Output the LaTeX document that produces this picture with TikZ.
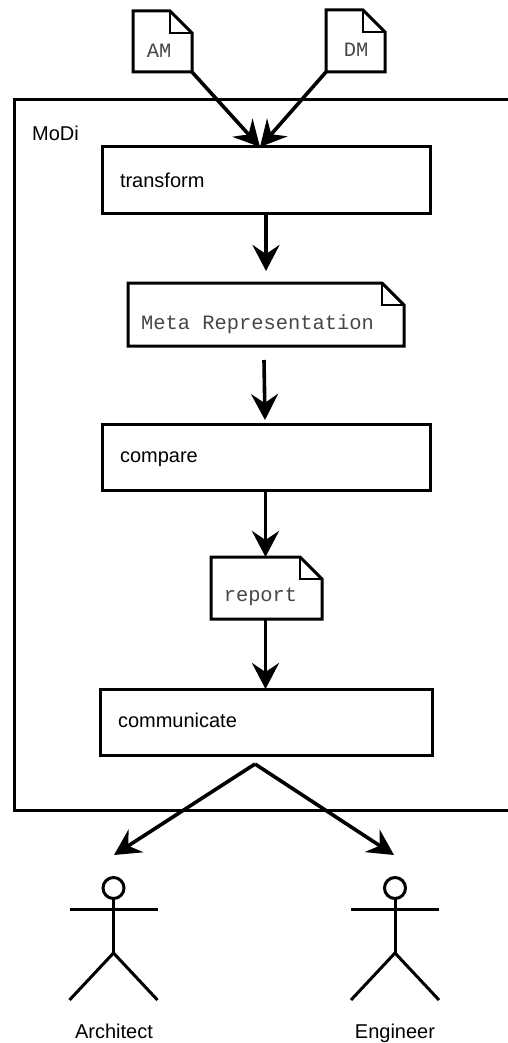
\documentclass[tikz,border=0pt]{standalone}
\usepackage{fontspec}
\setmainfont{Liberation Sans}
\newfontfamily\docfont{Liberation Mono}
\usetikzlibrary{arrows.meta}
\tikzset{
  procbox/.style={draw=black,line width=3pt,fill=white,inner xsep=18pt,inner ysep=0pt,outer sep=0pt,minimum height=66pt,align=left,text height=13pt,text depth=2pt,font=\fontsize{20}{22}\selectfont},
  docbox/.style={inner sep=0pt,outer sep=0pt},
  doctext/.style={inner sep=0pt,anchor=base,text=black!72,font=\docfont\fontsize{20.4}{22}\selectfont},
  plain/.style={inner sep=0pt,font=\fontsize{20}{22}\selectfont},
  flow/.style={line width=3.6pt,draw=black,-{Stealth[length=26pt,width=27pt,inset=9pt]}},
  frameline/.style={line width=3pt,draw=black,line join=miter},
  actorline/.style={line width=3pt,draw=black}
}
\newcommand{\docshape}[2]{%
  \draw[frameline,fill=white] (#1.north west) -- ([xshift=-#2pt]#1.north east) -- ([yshift=-#2pt]#1.north east) -- (#1.south east) -- (#1.south west) -- cycle;
  \draw[line width=2pt] ([xshift=-#2pt]#1.north east) -- ([xshift=-#2pt,yshift=-#2pt]#1.north east) -- ([yshift=-#2pt]#1.north east);
}
\newcommand{\actor}[2]{%
  \coordinate (#2head) at (#1,888);
  \node[circle,draw=black,line width=3pt,minimum size=21pt,inner sep=0pt,outer sep=0pt] (#2h) at (#2head) {};
  \coordinate (#2hip) at (#1,953);
  \coordinate (#2la) at (#1-44,909);
  \coordinate (#2ra) at (#1+44,909);
  \coordinate (#2lf) at (#1-44,1000);
  \coordinate (#2rf) at (#1+44,1000);
  \draw[actorline] (#2h.south) -- (#2hip);
  \draw[actorline] (#2la) -- (#2ra);
  \draw[actorline] (#2lf) -- (#2hip) -- (#2rf);
}
\begin{document}
\begin{tikzpicture}[x=1pt,y=-1pt]
\useasboundingbox (0,0) rectangle (508,1043);
% frame
\coordinate (ftr) at (508,100);
\coordinate (ftl) at (14,100);
\coordinate (fbl) at (14,810);
\coordinate (fbr) at (508,810);
\draw[frameline] (ftr) -- (ftl) -- (fbl) -- (fbr);
\node[plain,anchor=base west] (modi) at (32,140.5) {MoDi};
% process boxes
\node[procbox,text width=292pt,text height=15pt,text depth=0pt] (transform) at (266,180) {transform};
\node[procbox,text width=292pt] (compare) at (266,457) {compare};
\node[procbox,text width=296pt] (communicate) at (266,722) {communicate};
% documents
\node[docbox,minimum width=59pt,minimum height=61pt] (am) at (162.5,41.5) {};
\docshape{am}{22}
\node[doctext] (amt) at (159,58) {AM};
\node[docbox,minimum width=59pt,minimum height=62pt] (dm) at (355.5,41) {};
\docshape{dm}{22}
\node[doctext] (dmt) at (356,57) {DM};
\node[docbox,minimum width=276pt,minimum height=63pt] (meta) at (266,314.5) {};
\docshape{meta}{22}
\node[doctext] (metat) at (257.5,329) {Meta Representation};
\node[docbox,minimum width=111pt,minimum height=62pt] (report) at (266.5,588) {};
\docshape{report}{22}
\node[doctext] (reportt) at (260.5,601) {report};
% connector ends
\coordinate (merge) at (260,147);
\coordinate (t1) at (266,271);
\coordinate (m0) at (264,360);
\coordinate (m1) at (265,420);
\coordinate (fork) at (255,764);
\coordinate (a1) at (114,855);
\coordinate (e1) at (394,855);
\draw[flow] (am.south east) -- (merge);
\draw[flow] (dm.south west) -- (merge);
\draw[flow] (transform.south -| t1) -- (t1);
\draw[flow] (m0) -- (m1);
\draw[flow] ([xshift=-1pt]compare.south -| report) -- ([xshift=-1pt]report.north);
\draw[flow] ([xshift=-1pt]report.south) -- ([xshift=-1pt]communicate.north -| report);
\draw[flow] (fork) -- (a1);
\draw[flow] (fork) -- (e1);
% actors
\actor{113.5}{arch}
\actor{395}{eng}
\node[plain,anchor=base] (archlabel) at (114,1038.5) {Architect};
\node[plain,anchor=base] (englabel) at (395,1038.5) {Engineer};
\end{tikzpicture}
\end{document}
